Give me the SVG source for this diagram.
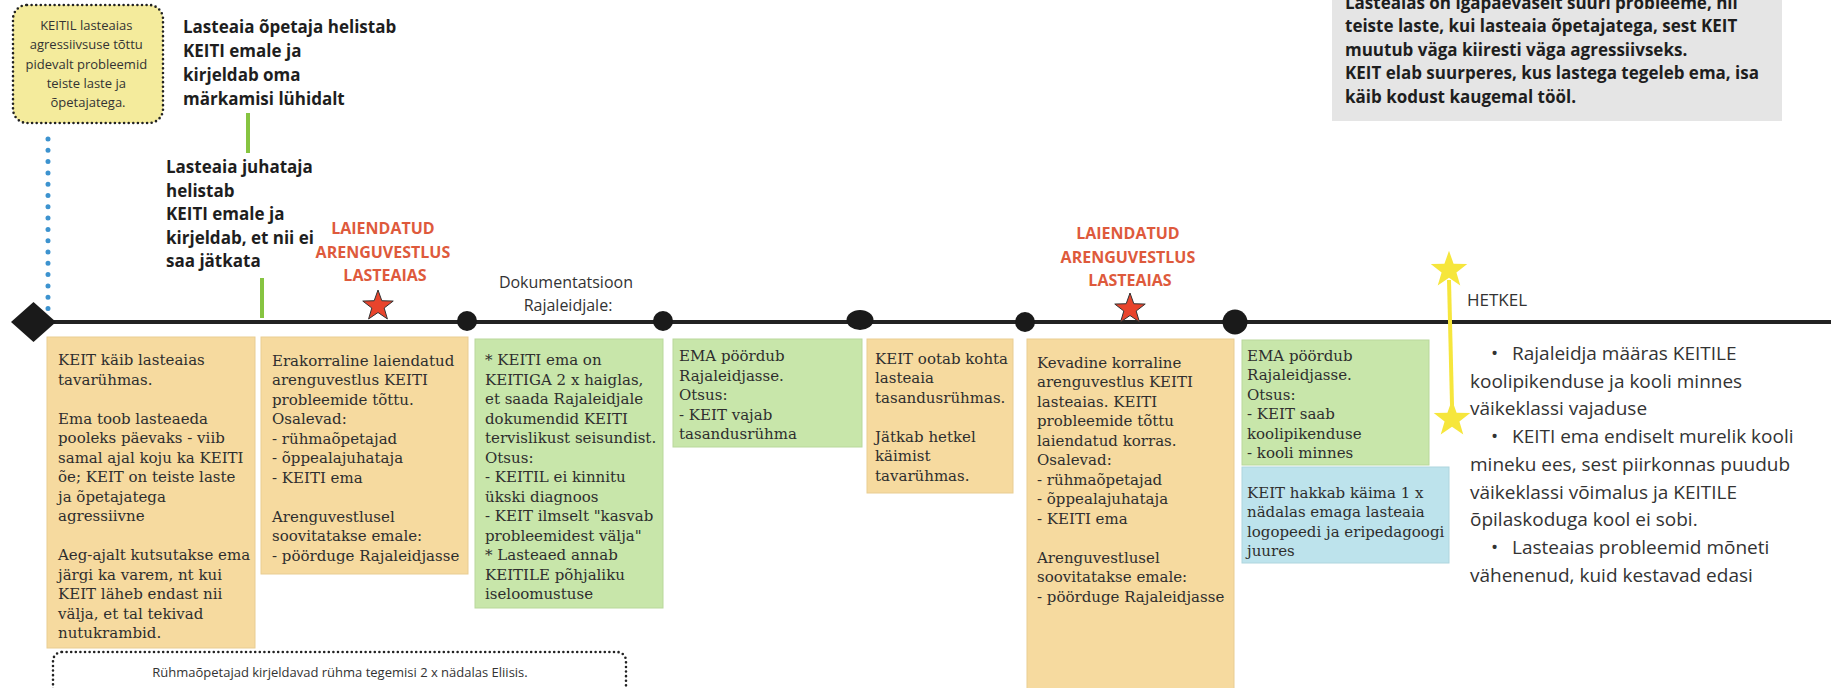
<svg xmlns="http://www.w3.org/2000/svg" width="1831" height="688" viewBox="0 0 1831 688">
<style>
.bold{font-family:"Open Sans","Liberation Sans",sans-serif;font-weight:bold;fill:#1e1e1e;font-size:17px}
.red{font-family:"Open Sans","Liberation Sans",sans-serif;font-weight:bold;fill:#de5a3c;font-size:16px;text-anchor:middle}
.sans{font-family:"Open Sans","Liberation Sans",sans-serif;fill:#333}
.serif{font-family:"DejaVu Serif","Liberation Serif",serif;fill:#2e2e2e;font-size:15px}
.orange{fill:#f6da9f;stroke:#e9cd92;stroke-width:1}
.green{fill:#c8e6aa;stroke:#b9d89b;stroke-width:1}
.blue{fill:#bde3ec;stroke:#aed5de;stroke-width:1}
.dotted{fill:none;stroke:#222;stroke-width:2.6;stroke-dasharray:0 4.6;stroke-linecap:round}
</style>
<defs>
<polygon id="star" points="0,-16 3.82,-5.26 15.22,-4.94 6.18,2.01 9.40,12.94 0,6.5 -9.40,12.94 -6.18,2.01 -15.22,-4.94 -3.82,-5.26"/>
</defs>

<g id="connectors">
<line x1="20" y1="322" x2="1831" y2="322" stroke="#222" stroke-width="4"/>
<line x1="48" y1="139" x2="48" y2="312" stroke="#3d93cf" stroke-width="5" stroke-dasharray="0 11.3" stroke-linecap="round"/>
<line x1="248" y1="113" x2="248" y2="153" stroke="#86c441" stroke-width="4"/>
<line x1="262" y1="278" x2="262" y2="318" stroke="#86c441" stroke-width="4"/>
<line x1="1449" y1="280" x2="1452" y2="405" stroke="#f6e63c" stroke-width="4"/>
</g>

<g id="timeline-markers">
<polygon points="11,322 33.5,302 56,322 33.5,342" fill="#1a1a1a"/>
<circle cx="467" cy="321" r="10" fill="#1a1a1a"/>
<circle cx="663" cy="321" r="10" fill="#1a1a1a"/>
<ellipse cx="860" cy="320" rx="13.5" ry="10" fill="#1a1a1a"/>
<circle cx="1025" cy="322" r="10" fill="#1a1a1a"/>
<circle cx="1235" cy="322" r="12.5" fill="#1a1a1a"/>
<use href="#star" transform="translate(378,306)" fill="#e8442c" stroke="#333" stroke-width="1"/>
<use href="#star" transform="translate(1130,309)" fill="#e8442c" stroke="#333" stroke-width="1"/>
<use href="#star" transform="translate(1449,270) scale(1.2)" fill="#f6e63c"/>
<use href="#star" transform="translate(1452,419) scale(1.2)" fill="#f6e63c"/>
</g>

<g id="note-keitil">
<rect x="13" y="5" width="150" height="118" rx="14" fill="#f4eb9c"/>
<rect x="13" y="5" width="150" height="118" rx="14" class="dotted"/>
<text class="sans" font-size="13" text-anchor="middle" fill="#444">
<tspan x="88" y="30">KEITIL lasteaias</tspan>
<tspan x="88" y="49.3">agressiivsuse tõttu</tspan>
<tspan x="88" y="68.6">pidevalt probleemid</tspan>
<tspan x="88" y="87.9">teiste laste ja</tspan>
<tspan x="88" y="107.2">õpetajatega.</tspan>
</text>
</g>

<g id="label-opetaja">
<text class="bold">
<tspan x="183" y="33">Lasteaia õpetaja helistab</tspan>
<tspan x="183" y="57">KEITI emale ja</tspan>
<tspan x="183" y="81">kirjeldab oma</tspan>
<tspan x="183" y="105">märkamisi lühidalt</tspan>
</text>
</g>

<g id="label-juhataja">
<text class="bold">
<tspan x="166" y="173">Lasteaia juhataja</tspan>
<tspan x="166" y="196.5">helistab</tspan>
<tspan x="166" y="220">KEITI emale ja</tspan>
<tspan x="166" y="243.5">kirjeldab, et nii ei</tspan>
<tspan x="166" y="267">saa jätkata</tspan>
</text>
</g>

<g id="label-laiendatud-1">
<text class="red">
<tspan x="385" y="234">LAIENDATUD</tspan>
<tspan x="385" y="257.5">ARENGUVESTLUS</tspan>
<tspan x="385" y="281">LASTEAIAS</tspan>
</text>
</g>

<g id="label-dokumentatsioon">
<text class="sans" font-size="16" text-anchor="middle">
<tspan x="568" y="288">Dokumentatsioon</tspan>
<tspan x="568" y="311">Rajaleidjale:</tspan>
</text>
</g>

<g id="label-laiendatud-2">
<text class="red">
<tspan x="1130" y="239">LAIENDATUD</tspan>
<tspan x="1130" y="262.5">ARENGUVESTLUS</tspan>
<tspan x="1130" y="286">LASTEAIAS</tspan>
</text>
</g>

<g id="label-hetkel">
<text class="sans" font-size="17" x="1467" y="306">HETKEL</text>
</g>

<g id="note-grey">
<rect x="1332" y="-6" width="450" height="127" fill="#e5e5e5"/>
<text class="bold" font-size="16">
<tspan x="1345" y="9">Lasteaias on igapäevaselt suuri probleeme, nii</tspan>
<tspan x="1345" y="32">teiste laste, kui lasteaia õpetajatega, sest KEIT</tspan>
<tspan x="1345" y="55.5">muutub väga kiiresti väga agressiivseks.</tspan>
<tspan x="1345" y="79">KEIT elab suurperes, kus lastega tegeleb ema, isa</tspan>
<tspan x="1345" y="102.5">käib kodust kaugemal tööl.</tspan>
</text>
</g>

<g id="box-1">
<rect x="47" y="337" width="208" height="311" class="orange"/>
<text class="serif">
<tspan x="58" y="365">KEIT käib lasteaias</tspan>
<tspan x="58" y="384.5">tavarühmas.</tspan>
<tspan x="58" y="423.5">Ema toob lasteaeda</tspan>
<tspan x="58" y="443">pooleks päevaks - viib</tspan>
<tspan x="58" y="462.5">samal ajal koju ka KEITI</tspan>
<tspan x="58" y="482">õe; KEIT on teiste laste</tspan>
<tspan x="58" y="501.5">ja õpetajatega</tspan>
<tspan x="58" y="521">agressiivne</tspan>
<tspan x="58" y="560">Aeg-ajalt kutsutakse ema</tspan>
<tspan x="58" y="579.5">järgi ka varem, nt kui</tspan>
<tspan x="58" y="599">KEIT läheb endast nii</tspan>
<tspan x="58" y="618.5">välja, et tal tekivad</tspan>
<tspan x="58" y="638">nutukrambid.</tspan>
</text>
</g>

<g id="box-2">
<rect x="261" y="337" width="207" height="237" class="orange"/>
<text class="serif">
<tspan x="272" y="365.5">Erakorraline laiendatud</tspan>
<tspan x="272" y="385">arenguvestlus KEITI</tspan>
<tspan x="272" y="404.5">probleemide tõttu.</tspan>
<tspan x="272" y="424">Osalevad:</tspan>
<tspan x="272" y="443.5">- rühmaõpetajad</tspan>
<tspan x="272" y="463">- õppealajuhataja</tspan>
<tspan x="272" y="482.5">- KEITI ema</tspan>
<tspan x="272" y="521.5">Arenguvestlusel</tspan>
<tspan x="272" y="541">soovitatakse emale:</tspan>
<tspan x="272" y="560.5">- pöörduge Rajaleidjasse</tspan>
</text>
</g>

<g id="box-3">
<rect x="475" y="339" width="188" height="269" class="green"/>
<text class="serif">
<tspan x="485" y="365">* KEITI ema on</tspan>
<tspan x="485" y="384.5">KEITIGA 2 x haiglas,</tspan>
<tspan x="485" y="404">et saada Rajaleidjale</tspan>
<tspan x="485" y="423.5">dokumendid KEITI</tspan>
<tspan x="485" y="443">tervislikust seisundist.</tspan>
<tspan x="485" y="462.5">Otsus:</tspan>
<tspan x="485" y="482">- KEITIL ei kinnitu</tspan>
<tspan x="485" y="501.5">ükski diagnoos</tspan>
<tspan x="485" y="521">- KEIT ilmselt "kasvab</tspan>
<tspan x="485" y="540.5">probleemidest välja"</tspan>
<tspan x="485" y="560">* Lasteaed annab</tspan>
<tspan x="485" y="579.5">KEITILE põhjaliku</tspan>
<tspan x="485" y="599">iseloomustuse</tspan>
</text>
</g>

<g id="box-4">
<rect x="673" y="339" width="189" height="108" class="green"/>
<text class="serif">
<tspan x="679" y="361">EMA pöördub</tspan>
<tspan x="679" y="380.5">Rajaleidjasse.</tspan>
<tspan x="679" y="400">Otsus:</tspan>
<tspan x="679" y="419.5">- KEIT vajab</tspan>
<tspan x="679" y="439">tasandusrühma</tspan>
</text>
</g>

<g id="box-5">
<rect x="867" y="339" width="146" height="154" class="orange"/>
<text class="serif">
<tspan x="875" y="363.5">KEIT ootab kohta</tspan>
<tspan x="875" y="383">lasteaia</tspan>
<tspan x="875" y="402.5">tasandusrühmas.</tspan>
<tspan x="875" y="441.5">Jätkab hetkel</tspan>
<tspan x="875" y="461">käimist</tspan>
<tspan x="875" y="480.5">tavarühmas.</tspan>
</text>
</g>

<g id="box-6">
<rect x="1027" y="339" width="207" height="360" class="orange"/>
<text class="serif">
<tspan x="1037" y="367.5">Kevadine korraline</tspan>
<tspan x="1037" y="387">arenguvestlus KEITI</tspan>
<tspan x="1037" y="406.5">lasteaias. KEITI</tspan>
<tspan x="1037" y="426">probleemide tõttu</tspan>
<tspan x="1037" y="445.5">laiendatud korras.</tspan>
<tspan x="1037" y="465">Osalevad:</tspan>
<tspan x="1037" y="484.5">- rühmaõpetajad</tspan>
<tspan x="1037" y="504">- õppealajuhataja</tspan>
<tspan x="1037" y="523.5">- KEITI ema</tspan>
<tspan x="1037" y="562.5">Arenguvestlusel</tspan>
<tspan x="1037" y="582">soovitatakse emale:</tspan>
<tspan x="1037" y="601.5">- pöörduge Rajaleidjasse</tspan>
</text>
</g>

<g id="box-7">
<rect x="1242" y="340" width="187" height="125" class="green"/>
<text class="serif">
<tspan x="1247" y="360.5">EMA pöördub</tspan>
<tspan x="1247" y="380">Rajaleidjasse.</tspan>
<tspan x="1247" y="399.5">Otsus:</tspan>
<tspan x="1247" y="419">- KEIT saab</tspan>
<tspan x="1247" y="438.5">koolipikenduse</tspan>
<tspan x="1247" y="458">- kooli minnes</tspan>
</text>
</g>

<g id="box-8">
<rect x="1242" y="467" width="207" height="96" class="blue"/>
<text class="serif">
<tspan x="1247" y="497.5">KEIT hakkab käima 1 x</tspan>
<tspan x="1247" y="517">nädalas emaga lasteaia</tspan>
<tspan x="1247" y="536.5">logopeedi ja eripedagoogi</tspan>
<tspan x="1247" y="556">juures</tspan>
</text>
</g>

<g id="hetkel-list">
<text class="sans" font-size="19">
<tspan x="1491" y="360">•</tspan><tspan x="1512" y="360">Rajaleidja määras KEITILE</tspan>
<tspan x="1470" y="387.7">koolipikenduse ja kooli minnes</tspan>
<tspan x="1470" y="415.4">väikeklassi vajaduse</tspan>
<tspan x="1491" y="443.1">•</tspan><tspan x="1512" y="443.1">KEITI ema endiselt murelik kooli</tspan>
<tspan x="1470" y="470.8">mineku ees, sest piirkonnas puudub</tspan>
<tspan x="1470" y="498.5">väikeklassi võimalus ja KEITILE</tspan>
<tspan x="1470" y="526.2">õpilaskoduga kool ei sobi.</tspan>
<tspan x="1491" y="553.9">•</tspan><tspan x="1512" y="553.9">Lasteaias probleemid mõneti</tspan>
<tspan x="1470" y="581.6">vähenenud, kuid kestavad edasi</tspan>
</text>
</g>

<g id="note-eliisis">
<rect x="53" y="652" width="573" height="70" rx="9" class="dotted"/>
<text class="sans" font-size="13" fill="#444" text-anchor="middle" x="340" y="677">Rühmaõpetajad kirjeldavad rühma tegemisi 2 x nädalas Eliisis.</text>
</g>
</svg>
